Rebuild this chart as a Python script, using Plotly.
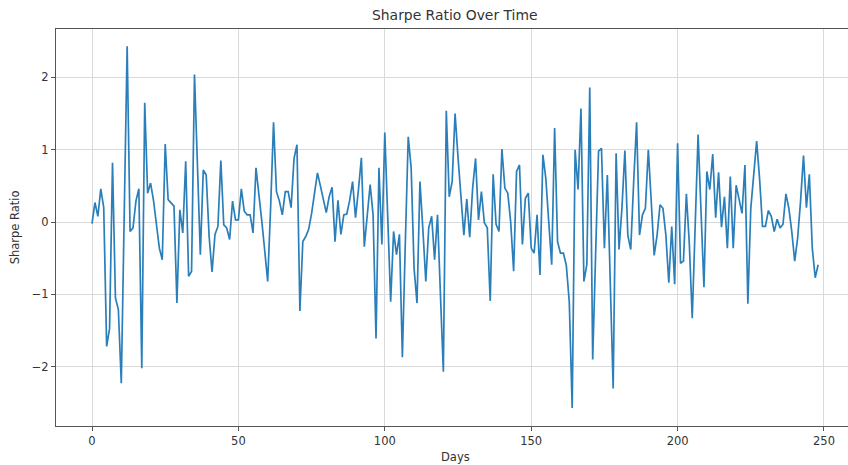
import plotly.graph_objects as go

sharpe = [
    -0.02, 0.27, 0.08, 0.46, 0.20, -1.72, -1.47, 0.82, -1.05, -1.21,
    -2.23, 0.00, 2.43, -0.13, -0.08, 0.29, 0.46, -2.02, 1.65, 0.40,
    0.54, 0.30, 0.00, -0.36, -0.52, 1.08, 0.31, 0.26, 0.22, -1.12,
    0.17, -0.15, 0.84, -0.75, -0.68, 2.04, 0.70, -0.45, 0.72, 0.65,
    -0.20, -0.69, -0.17, -0.06, 0.85, -0.04, -0.08, -0.24, 0.29, 0.03,
    0.03, 0.46, 0.15, 0.10, 0.10, -0.15, 0.75, 0.42, 0.01, -0.40,
    -0.82, 0.20, 1.38, 0.42, 0.29, 0.10, 0.42, 0.42, 0.20, 0.88,
    1.07, -1.23, -0.27, -0.20, -0.10, 0.12, 0.38, 0.68, 0.50, 0.30,
    0.13, 0.35, 0.48, -0.27, 0.30, -0.17, 0.10, 0.11, 0.30, 0.56,
    0.06, 0.45, 0.89, -0.34, 0.10, 0.52, 0.10, -1.61, 0.75, -0.31,
    1.24, 0.00, -1.10, -0.13, -0.45, -0.17, -1.87, -0.30, 1.18, 0.75,
    -0.64, -1.12, 0.56, -0.10, -0.82, -0.08, 0.08, -0.52, 0.10, -1.00,
    -2.07, 1.54, 0.35, 0.56, 1.50, 0.90, 0.35, -0.18, 0.32, -0.21,
    0.47, 0.88, 0.03, 0.42, -0.01, -0.08, -1.09, 0.66, -0.03, -0.13,
    1.01, 0.47, 0.40, 0.00, -0.68, 0.70, 0.79, -0.31, 0.33, 0.40,
    -0.36, -0.43, 0.10, -0.73, 0.93, 0.60, 0.00, -0.59, 1.30, -0.27,
    -0.43, -0.43, -0.60, -1.10, -2.57, 1.00, 0.45, 1.57, -0.82, -0.59,
    1.86, -1.90, -0.45, 0.98, 1.02, -0.36, 0.65, -0.70, -2.30, 0.95,
    -0.38, 0.20, 0.99, -0.18, -0.38, 0.56, 1.38, -0.18, 0.10, 0.19,
    1.00, 0.29, -0.46, -0.18, 0.24, 0.19, -0.18, -0.84, -0.06, -0.86,
    1.09, -0.57, -0.54, 0.39, -0.30, -1.33, 0.00, 1.21, 0.15, -0.90,
    0.70, 0.45, 0.94, 0.06, 0.69, -0.07, 0.35, -0.36, 0.63, -0.36,
    0.51, 0.33, 0.12, 0.79, -1.13, 0.19, 0.65, 1.12, 0.60, -0.06,
    -0.06, 0.16, 0.08, -0.13, 0.04, -0.08, -0.03, 0.39, 0.19, -0.13,
    -0.54, -0.22, 0.29, 0.92, 0.20, 0.66, -0.36, -0.77, -0.59,
]
days = list(range(len(sharpe)))

x_ticks = [0, 50, 100, 150, 200, 250]
y_ticks = [-2, -1, 0, 1, 2]
y_tick_labels = ["\u22122", "\u22121", "0", "1", "2"]

FONT = "DejaVu Sans"
TXT = "#333333"

fig = go.Figure()
fig.add_trace(go.Scatter(
    x=days, y=sharpe, mode="lines",
    line=dict(color="#2a7fba", width=1.7),
    showlegend=False, hoverinfo="skip",
))

fig.update_layout(
    width=848, height=465,
    margin=dict(l=56, r=0, t=29, b=39, autoexpand=False),
    paper_bgcolor="white", plot_bgcolor="white",
    font=dict(family=FONT, size=11.5, color=TXT),
    annotations=[
        dict(text="Sharpe Ratio Over Time", xref="paper", yref="paper",
             x=0.504, y=1.035, xanchor="center", yanchor="middle",
             showarrow=False, font=dict(family=FONT, size=13.9, color=TXT)),
        dict(text="Days", xref="paper", yref="paper",
             x=0.504, y=-0.078, xanchor="center", yanchor="middle",
             showarrow=False, font=dict(family=FONT, size=11.5, color=TXT)),
        dict(text="Sharpe Ratio", xref="paper", yref="paper",
             x=-0.052, y=0.5, xanchor="center", yanchor="middle", textangle=-90,
             showarrow=False, font=dict(family=FONT, size=11.5, color=TXT)),
    ],
)
fig.update_xaxes(
    range=[-12.3, 258.2], tickvals=x_ticks, automargin=False,
    showgrid=True, gridcolor="#dadada", gridwidth=1,
    showline=True, linecolor="#555555", linewidth=1, mirror=True,
    ticks="outside", ticklen=4, tickcolor="#555555",
    zeroline=False,
)
fig.update_yaxes(
    range=[-2.82, 2.67], tickvals=y_ticks, ticktext=y_tick_labels, automargin=False,
    showgrid=True, gridcolor="#dadada", gridwidth=1,
    showline=True, linecolor="#555555", linewidth=1, mirror=False,
    ticks="outside", ticklen=4, tickcolor="#555555",
    zeroline=False,
)

fig.write_html(
    "out.html",
    config={"displayModeBar": False},
    post_script="document.body.style.margin='0';document.body.style.padding='0';document.body.style.overflow='hidden';",
)
